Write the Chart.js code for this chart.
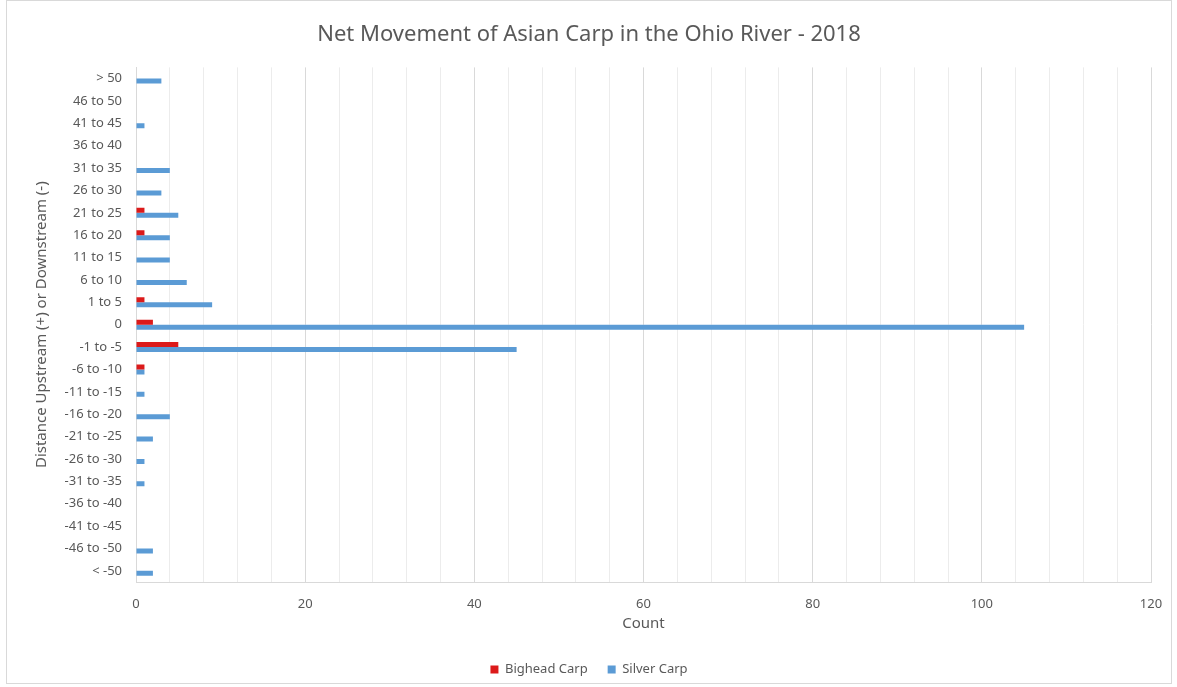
<!DOCTYPE html>
<html lang="en">
<head>
  <meta charset="UTF-8">
  <title>Net Movement of Asian Carp in the Ohio River - 2018</title>
  <script src="https://cdn.jsdelivr.net/npm/chart.js"></script>
  <style>
    body {
      margin: 0;
      padding: 0;
      background: #ffffff;
      font-family: 'Noto Sans', sans-serif;
    }

    /* chart frame, thin grey border like the Excel export */
    .frame {
      position: absolute;
      left: 6px;
      top: 0;
      width: 1164px;
      height: 682px;
      border: 1px solid #d9d9d9;
      background: #ffffff;
    }
  </style>
</head>
<body>

  <div class="frame">
    <canvas id="carpChart" width="1164" height="682"></canvas>
  </div>

  <script>
    // Distance classes, top to bottom
    const distances = [
      "> 50", "46 to 50", "41 to 45", "36 to 40", "31 to 35", "26 to 30",
      "21 to 25", "16 to 20", "11 to 15", "6 to 10", "1 to 5", "0",
      "-1 to -5", "-6 to -10", "-11 to -15", "-16 to -20", "-21 to -25",
      "-26 to -30", "-31 to -35", "-36 to -40", "-41 to -45", "-46 to -50", "< -50"
    ];

    // Counts
    const bigheadCarp = [0, 0, 0, 0, 0, 0, 1, 1, 0, 0, 1, 2, 5, 1, 0, 0, 0, 0, 0, 0, 0, 0, 0];
    const silverCarp  = [3, 0, 1, 0, 4, 3, 5, 4, 4, 6, 9, 105, 45, 1, 1, 4, 2, 1, 1, 0, 0, 2, 2];

    // x axis
    const countMin = 0;
    const countMax = 120;
    const gridStep = 4;
    const labelStep = 20;

    const textColor = '#595959';

    const ctx = document.getElementById('carpChart').getContext('2d');
    const chart = new Chart(ctx, {
      type: 'bar',
      data: {
        labels: distances,
        datasets: [
          {
            label: 'Bighead Carp',
            data: bigheadCarp,
            backgroundColor: '#dc1a1a',
            categoryPercentage: 0.45,
            barPercentage: 1.0
          },
          {
            label: 'Silver Carp',
            data: silverCarp,
            backgroundColor: '#5b9bd5',
            categoryPercentage: 0.45,
            barPercentage: 1.0
          }
        ]
      },
      options: {
        indexAxis: 'y',
        responsive: false,
        animation: false,
        layout: {
          // small negative bottom so the legend keeps its wide item gap
          padding: { left: 0, right: 0, top: 0, bottom: -3 }
        },
        plugins: {
          title: {
            display: true,
            text: 'Net Movement of Asian Carp in the Ohio River - 2018',
            color: textColor,
            font: { family: 'Noto Sans', size: 22, weight: 'normal' },
            padding: { top: 21, bottom: 19 }
          },
          legend: {
            position: 'bottom',
            labels: {
              color: textColor,
              font: { family: 'Noto Sans', size: 13 },
              boxWidth: 8,
              boxHeight: 8,
              padding: 20
            }
          },
          tooltip: { enabled: false }
        },
        scales: {
          x: {
            min: countMin,
            max: countMax,
            ticks: {
              stepSize: gridStep,
              autoSkip: false,
              maxRotation: 0,
              padding: 14,
              color: textColor,
              font: { family: 'Noto Sans', size: 13 },
              callback: function (value) {
                return value % labelStep === 0 ? value : '';
              }
            },
            grid: {
              drawTicks: false,
              color: function (c) {
                return c.tick && c.tick.value % labelStep === 0 ? '#d9d9d9' : '#ececec';
              }
            },
            border: { color: '#d9d9d9' },
            title: {
              display: true,
              text: 'Count',
              color: textColor,
              font: { family: 'Noto Sans', size: 15 },
              padding: { top: 0, bottom: 10 }
            },
            afterFit: function (scale) {
              scale.height = 61;
              scale.paddingRight = 20;
            }
          },
          y: {
            ticks: {
              autoSkip: false,
              padding: 14,
              color: textColor,
              font: { family: 'Noto Sans', size: 13 }
            },
            grid: { display: false, drawTicks: false },
            border: { color: '#d9d9d9' },
            title: {
              display: true,
              text: 'Distance Upstream (+) or Downstream (-)',
              color: textColor,
              font: { family: 'Noto Sans', size: 15 },
              padding: { top: 26, bottom: 0 }
            },
            afterFit: function (scale) {
              scale.width = 129;
            }
          }
        }
      }
    });
  </script>

</body>
</html>
